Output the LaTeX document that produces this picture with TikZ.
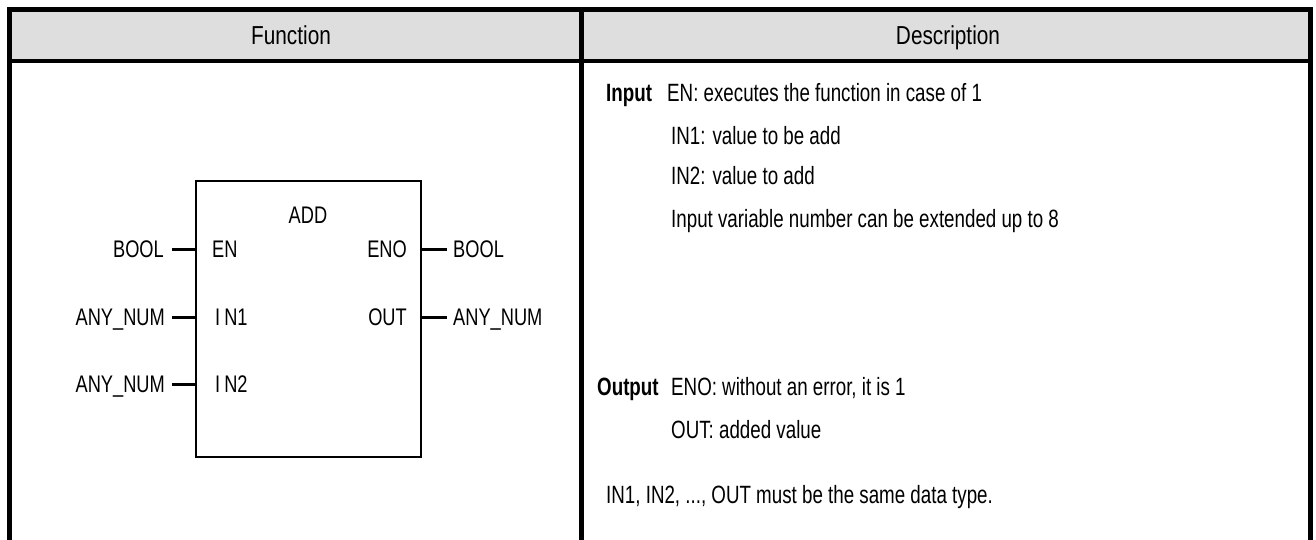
\documentclass[tikz,border=0pt]{standalone}
\usepackage{fontspec}
\setmainfont{Liberation Sans}
\newfontfamily\descfont[FakeStretch=0.75]{Liberation Sans}
\newfontfamily\hdrfont[FakeStretch=0.8]{Liberation Sans}
\newfontfamily\blkfont[FakeStretch=0.76]{Liberation Sans}
\definecolor{hdr}{RGB}{222,222,222}
\begin{document}
\begin{tikzpicture}[x=1pt,y=-1pt,
  tline/.style={line width=5pt},
  desc/.style={font=\descfont\fontsize{25pt}{28pt}\selectfont, inner sep=0pt, anchor=base west},
  descb/.style={font=\descfont\bfseries\fontsize{25pt}{28pt}\selectfont, inner sep=0pt, anchor=base west},
  hdrtxt/.style={font=\hdrfont\fontsize{26pt}{28pt}\selectfont, inner sep=0pt, anchor=base},
  blk/.style={font=\blkfont\fontsize{24pt}{26pt}\selectfont, inner sep=0pt},
  pin/.style={line width=3pt},
  boxline/.style={line width=2.5pt}]
\useasboundingbox (0,0) rectangle (1316,540);
% header
\fill[hdr] (9.5,9.5) rectangle (1310.5,61);
\draw[tline] (9.5,543) -- (9.5,9.5) -- (1310.5,9.5) -- (1310.5,543);
\draw[line width=4.5pt] (7,61) -- (1313,61);
\draw[tline] (581.5,9.5) -- (581.5,543);
\node[hdrtxt] (hf) at (291,45) {Function};
\node[hdrtxt] (hd) at (948,45) {Description};
% function block
\node[draw, boxline, minimum width=225pt, minimum height=276pt, inner sep=0pt] (fb) at (308.5,319) {};
\node[blk, anchor=base] (add) at (308,223) {ADD};
\coordinate (l1) at (196,249);
\coordinate (l2) at (196,317);
\coordinate (l3) at (196,384);
\coordinate (r1) at (421,249);
\coordinate (r2) at (421,317);
\coordinate (p1) at (172,249);
\coordinate (p2) at (172,317);
\coordinate (p3) at (172,384);
\coordinate (q1) at (447,249);
\coordinate (q2) at (447,317);
\draw[pin] (p1) -- (l1);
\draw[pin] (p2) -- (l2);
\draw[pin] (p3) -- (l3);
\draw[pin] (r1) -- (q1);
\draw[pin] (r2) -- (q2);
\node[blk, anchor=base east] (tin1) at (164,257.5) {BOOL};
\node[blk, anchor=base east] (tin2) at (165,325.5) {ANY\_NUM};
\node[blk, anchor=base east] (tin3) at (165,392.5) {ANY\_NUM};
\node[blk, anchor=base west] (en) at (212,257.5) {EN};
\node[blk, anchor=base west] (in1) at (215,325.5) {I\hspace{4pt}N1};
\node[blk, anchor=base west] (in2) at (215,392.5) {I\hspace{4pt}N2};
\node[blk, anchor=base east] (eno) at (407,257.5) {ENO};
\node[blk, anchor=base east] (out) at (407,325.5) {OUT};
\node[blk, anchor=base west] (tout1) at (453,257.5) {BOOL};
\node[blk, anchor=base west] (tout2) at (453,325.5) {ANY\_NUM};
% description
\node[descb] (inp) at (606,102) {Input};
\node[desc] (d1) at (667,102) {EN: executes the function in case of 1};
\node[desc] (d2) at (671,145) {IN1: value to be add};
\node[desc] (d3) at (671,185) {IN2: value to add};
\node[desc] (d4) at (671,227) {Input variable number can be extended up to 8};
\node[descb] (outp) at (597,395) {Output};
\node[desc] (d5) at (671,395) {ENO: without an error, it is 1};
\node[desc] (d6) at (671,438) {OUT: added value};
\node[desc] (d7) at (606,503) {IN1, IN2, ..., OUT must be the same data type.};
\end{tikzpicture}
\end{document}
